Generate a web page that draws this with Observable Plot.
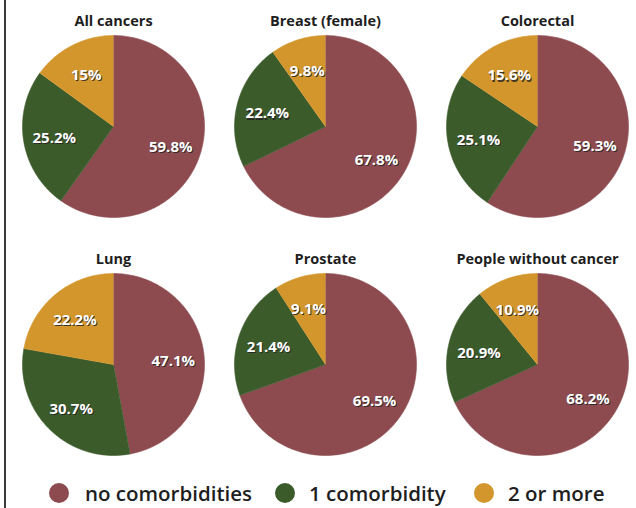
<!DOCTYPE html>
<html><head><meta charset="utf-8">
<script src="https://cdn.jsdelivr.net/npm/d3@7"></script>
<script src="https://cdn.jsdelivr.net/npm/@observablehq/plot@0.6"></script>
<style>
body{margin:0;background:#fff;width:636px;height:508px;overflow:hidden;position:relative;font-family:"Open Sans",Lato,sans-serif;}
#frame{position:absolute;left:4px;top:0;width:2px;height:508px;background:#3a3a3a;}
#chart{position:absolute;left:0;top:0;}
.sw{position:absolute;top:483px;width:20px;height:20px;border-radius:50%;}
.lt{position:absolute;top:479px;height:28px;line-height:28px;font-size:20.5px;font-weight:600;color:#1e1e1e;white-space:nowrap;}
</style></head>
<body>
<div id="chart"></div>
<div id="legend"></div>
<div id="frame"></div>
<script>
const pies = ["All cancers","Breast (female)","Colorectal","Lung","Prostate","People without cancer"];
const categories = ["no comorbidities","1 comorbidity","2 or more"];
const noComorbidities = [59.8, 67.8, 59.3, 47.1, 69.5, 68.2];
const oneComorbidity = [25.2, 22.4, 25.1, 30.7, 21.4, 20.9];
const twoOrMore = [15, 9.8, 15.6, 22.2, 9.1, 10.9];
const colors = ["#8d4b50", "#3c5b2b", "#d3962c"];

const series = [noComorbidities, oneComorbidity, twoOrMore];
const rows = [];
pies.forEach((name, p) => {
  const col = p % 3, row = Math.floor(p / 3);
  const total = d3.sum(series, s => s[p]);
  rows.push({type: "title", name, col, row});
  let start = 0;
  series.forEach((s, k) => {
    const v = s[p];
    const a0 = start / total * 2 * Math.PI, a1 = (start + v) / total * 2 * Math.PI;
    const cat = categories[k];
    rows.push({type: "arc", cat, col, row, x: 0, y: 0});
    const n = Math.max(2, Math.ceil((a1 - a0) / (Math.PI / 180)));
    for (let i = 0; i <= n; i++) {
      const a = a0 + (a1 - a0) * i / n;
      rows.push({type: "arc", cat, col, row, x: Math.sin(a), y: Math.cos(a)});
    }
    const am = (a0 + a1) / 2;
    rows.push({type: "label", cat, col, row, x: 0.66 * Math.sin(am), y: 0.66 * Math.cos(am), text: v + "%"});
    start += v;
  });
});

const font = "'Open Sans', Lato, sans-serif";
const chart = Plot.plot({
  width: 636, height: 470,
  marginTop: 0, marginRight: 0, marginBottom: 0, marginLeft: 0,
  facet: {data: rows, x: "col", y: "row", marginTop: 0, marginRight: 0, marginBottom: 0, marginLeft: 0},
  fx: {domain: [0, 1, 2], range: [7, 643], padding: 0, axis: null},
  fy: {domain: [0, 1], range: [7, 483], padding: 0, axis: null},
  x: {domain: [-1.165, 1.165], axis: null},
  y: {domain: [-1.308, 1.308], axis: null},
  color: {domain: categories, range: colors},
  style: {fontFamily: font, background: "transparent"},
  marks: [
    Plot.line(rows, {filter: d => d.type === "arc", x: "x", y: "y", z: "cat", fill: "cat", stroke: "cat", strokeWidth: 0.6}),
    Plot.text(rows, {filter: d => d.type === "label", x: "x", y: "y", text: "text", fill: "#222", fillOpacity: 0.85, dx: 1, dy: 3.2, fontSize: 15, fontWeight: 700}),
    Plot.text(rows, {filter: d => d.type === "label", x: "x", y: "y", text: "text", fill: "#fff", dy: 2, fontSize: 15, fontWeight: 700}),
    Plot.text(rows, {filter: d => d.type === "title", frameAnchor: "top", dy: 8, text: "name", fill: "#1e1e1e", fontSize: 14.5, fontWeight: 700})
  ]
});
document.getElementById("chart").appendChild(chart);

const legend = document.getElementById("legend");
const swLeft = [49, 275, 474];
const txLeft = [85, 309, 508];
categories.forEach((c, i) => {
  const sw = document.createElement("div");
  sw.className = "sw"; sw.style.left = swLeft[i] + "px"; sw.style.background = colors[i];
  legend.appendChild(sw);
  const t = document.createElement("div");
  t.className = "lt"; t.style.left = txLeft[i] + "px"; t.textContent = c;
  legend.appendChild(t);
});
</script>
</body></html>
